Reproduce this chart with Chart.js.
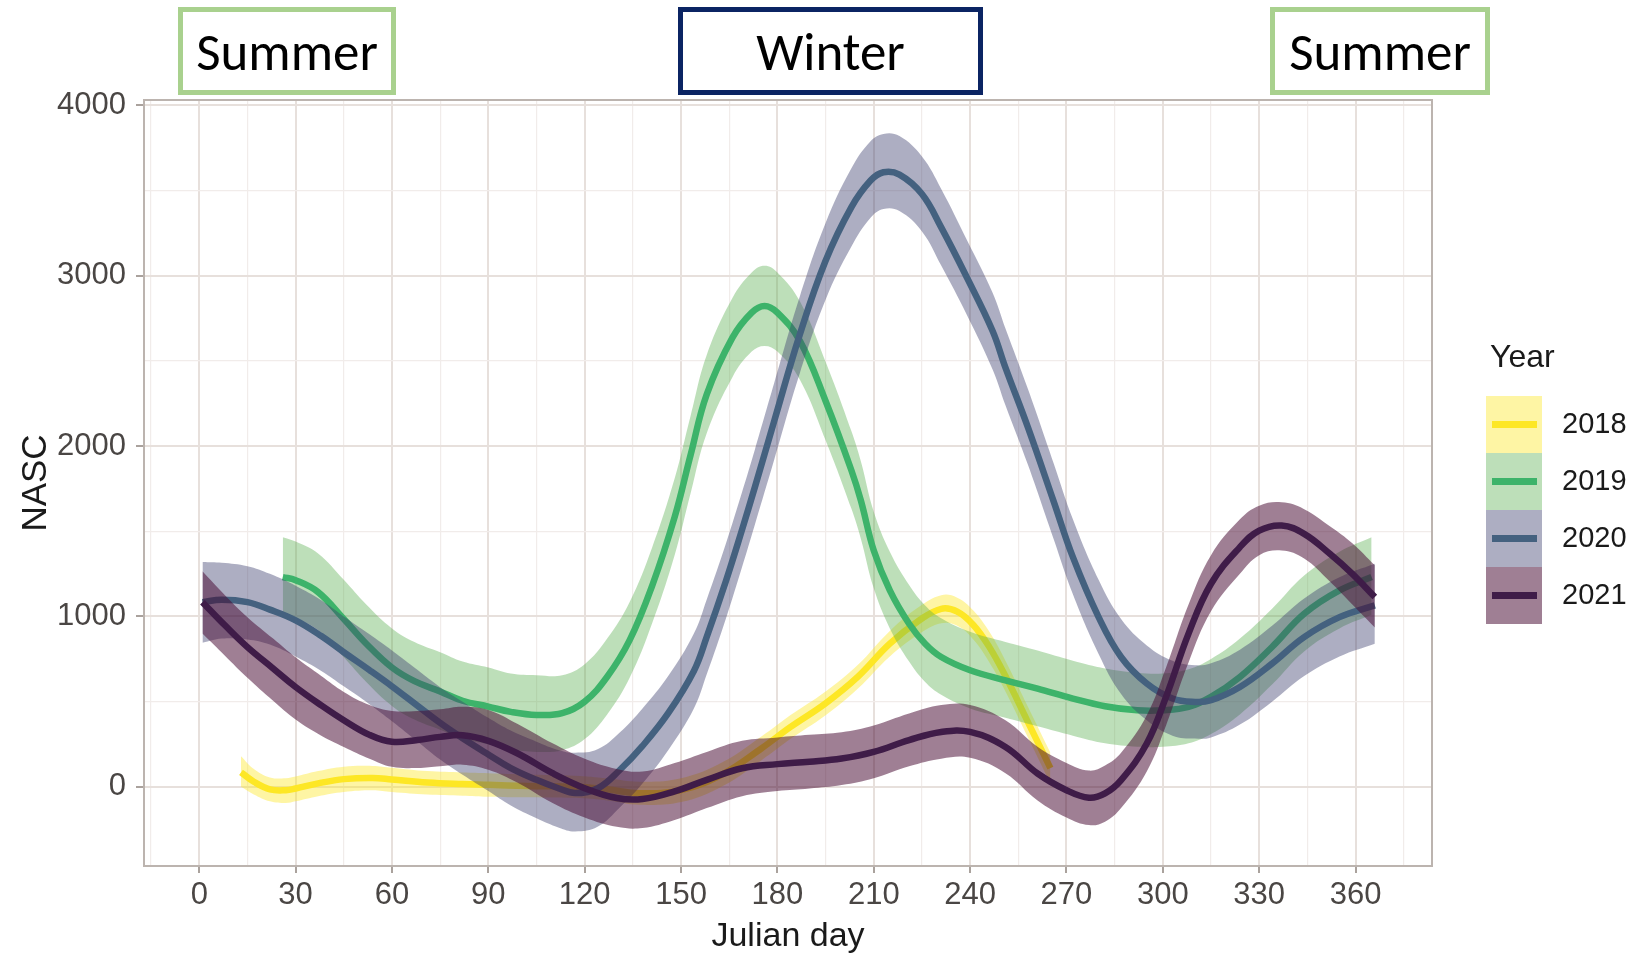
<!DOCTYPE html>
<html>
<head>
<meta charset="utf-8">
<title>NASC by Julian day</title>
<script src="https://cdn.jsdelivr.net/npm/chart.js@4.4.1/dist/chart.umd.min.js"></script>
<style>
  html, body { margin: 0; padding: 0; background: #ffffff; }
  #wrap { width: 1636px; height: 956px; position: relative; }
</style>
</head>
<body>
<div id="wrap"><canvas id="chart" width="1636" height="956"></canvas></div>
<script>
// ---- axis ticks ----
const xMajorTicks = [0, 30, 60, 90, 120, 150, 180, 210, 240, 270, 300, 330, 360];
const xMinorTicks = [-15, 15, 45, 75, 105, 135, 165, 195, 225, 255, 285, 315, 345, 375];
const yMajorTicks = [0, 1000, 2000, 3000, 4000];
const yMinorTicks = [500, 1500, 2500, 3500];

// ---- labels ----
const years = ['2018', '2019', '2020', '2021'];
const seasonLabels = ['Summer', 'Winter', 'Summer'];
const xTitle = 'Julian day';
const yTitle = 'NASC';
const legendTitle = 'Year';

// ---- smoothed NASC with confidence band, per year ----
const days2018  = [13, 17, 22, 27, 30, 37, 45, 54, 60, 71, 82, 90, 102, 117, 127, 137, 150, 163, 175, 184, 195, 205, 215, 224, 231, 236, 241, 246, 251, 258, 265];
const nasc2018  = [85, 30, -15, -20, -10, 20, 45, 52, 43, 25, 16, 12, 5, 0, -15, -38, -20, 75, 225, 350, 490, 645, 840, 975, 1045, 1028, 950, 820, 650, 380, 110];
const lower2018 = [0, -45, -85, -95, -85, -55, -30, -20, -30, -45, -52, -58, -62, -65, -80, -105, -90, 5, 155, 280, 420, 575, 765, 895, 960, 945, 865, 730, 560, 290, 20];
const upper2018 = [180, 105, 55, 50, 60, 92, 118, 122, 112, 92, 84, 80, 72, 65, 50, 30, 50, 145, 295, 420, 560, 715, 915, 1055, 1125, 1110, 1035, 910, 740, 470, 200];

const days2019  = [26, 30, 37, 45, 52, 60, 67, 75, 82, 90, 97, 105, 113, 120, 127, 134, 141, 148, 153, 158, 166, 172, 176, 180, 187, 195, 203, 206, 210, 215, 221, 226, 231, 240, 251, 261, 272, 282, 292, 300, 308, 315, 324, 334, 344, 355, 365];
const nasc2019  = [1231, 1213, 1143, 985, 840, 700, 620, 560, 505, 471, 440, 422, 432, 500, 646, 861, 1180, 1583, 1950, 2304, 2637, 2784, 2823, 2784, 2618, 2265, 1860, 1680, 1387, 1153, 957, 840, 762, 684, 625, 576, 518, 473, 449, 449, 469, 528, 645, 821, 1016, 1153, 1231];
const lower2019 = [1010, 990, 920, 760, 615, 475, 395, 335, 280, 250, 220, 205, 215, 280, 425, 640, 960, 1360, 1725, 2075, 2405, 2555, 2588, 2555, 2390, 2035, 1635, 1455, 1165, 930, 735, 615, 540, 460, 405, 355, 300, 255, 235, 235, 255, 310, 425, 600, 795, 930, 1010];
const upper2019 = [1465, 1440, 1370, 1215, 1070, 930, 850, 790, 735, 700, 665, 655, 655, 720, 870, 1085, 1405, 1810, 2180, 2535, 2870, 3020, 3059, 3020, 2850, 2495, 2090, 1910, 1615, 1380, 1185, 1065, 990, 910, 850, 800, 740, 695, 670, 665, 690, 750, 870, 1045, 1240, 1380, 1465];

const days2020  = [1, 7, 15, 22, 30, 38, 45, 53, 60, 68, 75, 82, 90, 97, 105, 112, 117, 124, 131, 138, 146, 154, 158, 164, 169, 173, 179, 187, 195, 203, 209, 213, 218, 225, 231, 239, 247, 251, 258, 266, 272, 280, 287, 295, 303, 310, 315, 324, 334, 344, 355, 366];
const nasc2020  = [1084, 1098, 1084, 1040, 977, 885, 790, 685, 590, 475, 375, 285, 190, 110, 41, -10, -37, -10, 100, 240, 432, 680, 880, 1210, 1510, 1760, 2147, 2657, 3088, 3402, 3559, 3608, 3594, 3480, 3284, 2990, 2676, 2461, 2110, 1676, 1348, 996, 762, 606, 518, 498, 508, 586, 723, 879, 996, 1065];
const lower2020 = [845, 870, 865, 835, 765, 680, 590, 485, 385, 265, 160, 70, -25, -110, -185, -240, -262, -235, -120, 20, 215, 460, 660, 990, 1290, 1540, 1920, 2430, 2860, 3170, 3340, 3392, 3380, 3260, 3060, 2770, 2450, 2240, 1890, 1455, 1130, 780, 545, 390, 300, 283, 290, 365, 500, 650, 765, 840];
const upper2020 = [1320, 1315, 1295, 1250, 1180, 1095, 1000, 895, 800, 685, 585, 500, 405, 330, 265, 215, 200, 220, 320, 460, 650, 900, 1100, 1430, 1730, 1980, 2370, 2880, 3310, 3630, 3790, 3833, 3820, 3700, 3510, 3210, 2900, 2690, 2335, 1900, 1570, 1215, 985, 830, 740, 713, 725, 805, 945, 1105, 1230, 1309];

const days2021  = [1, 8, 15, 23, 30, 38, 45, 53, 60, 68, 75, 82, 90, 99, 110, 120, 130, 138, 148, 158, 169, 180, 190, 200, 210, 221, 231, 240, 251, 261, 270, 277, 282, 287, 295, 301, 308, 315, 324, 330, 337, 344, 352, 359, 366];
const nasc2021  = [1084, 948, 820, 695, 586, 478, 391, 305, 264, 275, 293, 303, 270, 197, 80, -8, -66, -72, -27, 41, 109, 133, 147, 166, 205, 274, 322, 322, 234, 78, -20, -64, -39, 39, 254, 528, 899, 1192, 1407, 1504, 1534, 1485, 1368, 1250, 1114];
const lower2021 = [900, 770, 640, 505, 395, 300, 234, 165, 117, 110, 120, 130, 100, 25, -95, -180, -235, -242, -195, -125, -55, -25, -10, 10, 50, 120, 165, 170, 80, -80, -180, -225, -205, -125, 90, 360, 730, 1030, 1250, 1360, 1387, 1340, 1205, 1070, 935];
const upper2021 = [1265, 1125, 996, 870, 760, 650, 557, 480, 445, 445, 455, 470, 451, 370, 255, 165, 105, 90, 140, 205, 270, 290, 305, 320, 360, 430, 480, 480, 390, 235, 140, 95, 125, 200, 420, 700, 1070, 1360, 1570, 1650, 1670, 1630, 1530, 1430, 1300];

const seriesDays  = [days2018, days2019, days2020, days2021];
const seriesNasc  = [nasc2018, nasc2019, nasc2020, nasc2021];
const seriesLower = [lower2018, lower2019, lower2020, lower2021];
const seriesUpper = [upper2018, upper2019, upper2020, upper2021];

// ---- styles ----
const lineColors = ['#fde725', '#3db36a', '#44617f', '#3f1c48'];
const bandColors = ['rgba(253,231,37,0.42)', 'rgba(90,175,80,0.40)', 'rgba(60,62,110,0.42)', 'rgba(70,10,50,0.52)'];
const tickFont = '"Liberation Sans", Arial, Helvetica, sans-serif';
const seasonFont = 'Carlito, Calibri, Lato, "Open Sans", sans-serif';

const toPoints = (xs, ys) => xs.map((x, i) => ({ x: x, y: ys[i] }));

// Each year: band top, band bottom (filled to the top), then the mean line.
const datasets = [];
const layerCount = years.length * 3;
years.forEach((yr, s) => {
  const base = s * 3;
  datasets.push({
    label: yr + ' upper',
    data: toPoints(seriesDays[s], seriesUpper[s]),
    borderColor: 'rgba(0,0,0,0)', borderWidth: 0, pointRadius: 0,
    fill: false,
    order: layerCount - base
  });
  datasets.push({
    label: yr + ' lower',
    data: toPoints(seriesDays[s], seriesLower[s]),
    borderColor: 'rgba(0,0,0,0)', borderWidth: 0, pointRadius: 0,
    backgroundColor: bandColors[s], fill: '-1',
    order: layerCount - base - 1
  });
  datasets.push({
    label: yr,
    data: toPoints(seriesDays[s], seriesNasc[s]),
    borderColor: lineColors[s], borderWidth: 6.5, pointRadius: 0,
    borderCapStyle: 'butt', borderJoinStyle: 'round',
    fill: false,
    order: layerCount - base - 2
  });
});

const isMajorX = v => xMajorTicks.includes(v);
const isMajorY = v => yMajorTicks.includes(v);
const gridMajor = '#e7e0dc';
const gridMinor = '#f1ecea';
const tickMark = '#aaa29d';

// Panel border, season boxes, axis titles and the year key
const decorations = {
  id: 'decorations',
  afterDraw(chart) {
    const ctx = chart.ctx;
    const a = chart.chartArea;
    ctx.save();

    // panel border
    ctx.strokeStyle = '#bcb4af';
    ctx.lineWidth = 2;
    ctx.strokeRect(a.left, a.top, a.right - a.left, a.bottom - a.top);

    // season boxes above the panel
    const boxes = [
      { x0: 178, x1: 396, stroke: '#a9d18e' },
      { x0: 678, x1: 983, stroke: '#0b2463' },
      { x0: 1270, x1: 1490, stroke: '#a9d18e' }
    ];
    ctx.lineWidth = 5;
    ctx.textAlign = 'center';
    ctx.textBaseline = 'alphabetic';
    ctx.font = '53px ' + seasonFont;
    ctx.fillStyle = '#000000';
    boxes.forEach((b, i) => {
      ctx.strokeStyle = b.stroke;
      ctx.strokeRect(b.x0 + 2.5, 9.5, b.x1 - b.x0 - 5, 83);
      ctx.fillText(seasonLabels[i], (b.x0 + b.x1) / 2, 70);
    });

    // axis titles
    ctx.fillStyle = '#1a1a1a';
    ctx.font = '34px ' + tickFont;
    ctx.textAlign = 'center';
    ctx.fillText(xTitle, (a.left + a.right) / 2, 946);
    ctx.save();
    ctx.translate(46, (a.top + a.bottom) / 2);
    ctx.rotate(-Math.PI / 2);
    ctx.font = '35px ' + tickFont;
    ctx.fillText(yTitle, 0, 0);
    ctx.restore();

    // year key
    ctx.textAlign = 'left';
    ctx.font = '32px ' + tickFont;
    ctx.fillStyle = '#1a1a1a';
    ctx.fillText(legendTitle, 1490, 367);
    const kx = 1486, ky = 396, kw = 56, kh = 57;
    years.forEach((yr, s) => {
      const top = ky + s * kh;
      ctx.fillStyle = '#ffffff';
      ctx.fillRect(kx, top, kw, kh);
      ctx.fillStyle = bandColors[s];
      ctx.fillRect(kx, top, kw, kh);
      ctx.strokeStyle = lineColors[s];
      ctx.lineWidth = 7;
      ctx.beginPath();
      ctx.moveTo(kx + 6, top + kh / 2);
      ctx.lineTo(kx + kw - 5, top + kh / 2);
      ctx.stroke();
      ctx.fillStyle = '#1a1a1a';
      ctx.font = '29px ' + tickFont;
      ctx.textBaseline = 'middle';
      ctx.fillText(yr, 1562, top + kh / 2);
      ctx.textBaseline = 'alphabetic';
    });

    ctx.restore();
  }
};

new Chart(document.getElementById('chart'), {
  type: 'line',
  data: { datasets: datasets },
  plugins: [decorations],
  options: {
    responsive: false,
    animation: false,
    devicePixelRatio: 1,
    layout: { padding: { top: 100, right: 204, left: 0, bottom: 0 } },
    plugins: {
      legend: { display: false },
      tooltip: { enabled: false },
      filler: { propagate: false }
    },
    elements: { line: { tension: 0.4, cubicInterpolationMode: 'default' } },
    scales: {
      x: {
        type: 'linear',
        min: -17.2,
        max: 383.8,
        afterFit: s => { s.height = 90; },
        afterBuildTicks: s => {
          s.ticks = xMinorTicks.concat(xMajorTicks).sort((p, q) => p - q).map(v => ({ value: v }));
        },
        border: { display: false },
        grid: {
          color: c => (c.tick && isMajorX(c.tick.value)) ? gridMajor : gridMinor,
          lineWidth: c => (c.tick && isMajorX(c.tick.value)) ? 2 : 1.2,
          tickColor: c => (c.tick && isMajorX(c.tick.value)) ? tickMark : 'rgba(0,0,0,0)',
          tickLength: 7,
          tickWidth: 2,
          drawTicks: true
        },
        ticks: {
          autoSkip: false,
          maxRotation: 0,
          padding: 4,
          color: '#4a4644',
          font: { size: 31, family: tickFont },
          callback: v => isMajorX(v) ? String(v) : ''
        }
      },
      y: {
        type: 'linear',
        min: -465,
        max: 4032,
        afterFit: s => { s.width = 144; },
        afterBuildTicks: s => {
          s.ticks = yMajorTicks.concat(yMinorTicks).sort((p, q) => p - q).map(v => ({ value: v }));
        },
        border: { display: false },
        grid: {
          color: c => (c.tick && isMajorY(c.tick.value)) ? gridMajor : gridMinor,
          lineWidth: c => (c.tick && isMajorY(c.tick.value)) ? 2 : 1.2,
          tickColor: c => (c.tick && isMajorY(c.tick.value)) ? tickMark : 'rgba(0,0,0,0)',
          tickLength: 8,
          tickWidth: 2,
          drawTicks: true
        },
        ticks: {
          autoSkip: false,
          padding: 10,
          color: '#4a4644',
          font: { size: 31, family: tickFont },
          callback: v => isMajorY(v) ? String(v) : ''
        }
      }
    }
  }
});
</script>
</body>
</html>
